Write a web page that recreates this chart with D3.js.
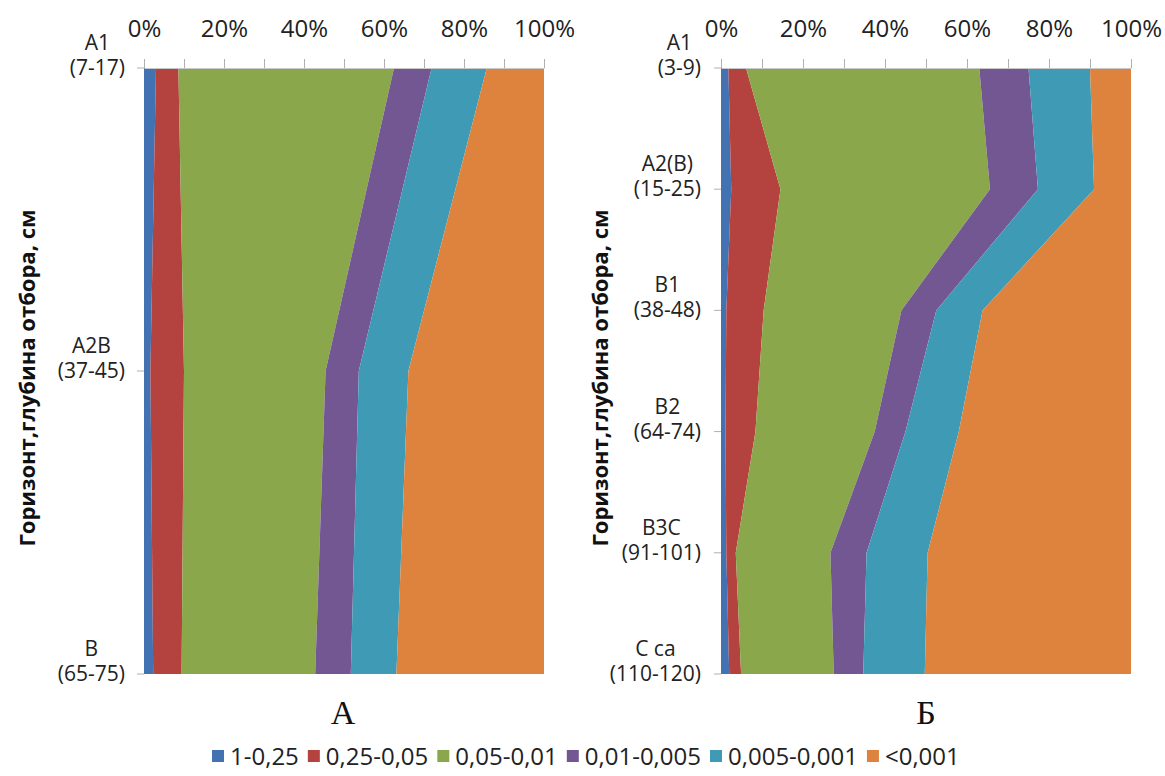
<!DOCTYPE html>
<html>
<head>
<meta charset="utf-8">
<script src="https://cdn.jsdelivr.net/npm/d3@7"></script>
<style>
  body { margin: 0; background: #fff; }
  svg { font-family: "Open Sans", sans-serif; }
</style>
</head>
<body>
<svg id="chart" width="1165" height="776"></svg>
<script>
"use strict";

// particle-size fractions, mm (legend order, stacked left to right)
const fractions = ["1-0,25", "0,25-0,05", "0,05-0,01", "0,01-0,005", "0,005-0,001", "<0,001"];
const fractionColors = ["#4372b3", "#b4423f", "#8ba74c", "#735793", "#3f9bb5", "#de833d"];

// top axis
const percentTicks = [0, 10, 20, 30, 40, 50, 60, 70, 80, 90, 100];

// panel А
const horizonsA = ["А1", "А2В", "В"];
const depthsA = ["(7-17)", "(37-45)", "(65-75)"];
const valuesA = [
    [3.0, 5.6, 53.9, 9.4, 13.8, 14.3],
    [1.6, 8.4, 35.4, 8.3, 12.4, 33.9],
    [2.3, 7.1, 33.4, 8.9, 11.4, 36.9]
];

// panel Б
const horizonsB = ["А1", "А2(В)", "В1", "В2", "В3С", "С ca"];
const depthsB = ["(3-9)", "(15-25)", "(38-48)", "(64-74)", "(91-101)", "(110-120)"];
const valuesB = [
    [1.8, 4.3, 56.9, 12.0, 15.0, 10.0],
    [2.5, 12.0, 51.1, 11.7, 13.7, 9.0],
    [1.3, 9.1, 33.6, 8.5, 11.3, 36.2],
    [1.1, 7.3, 29.1, 7.5, 13.0, 42.0],
    [1.3, 2.3, 23.1, 8.8, 14.9, 49.6],
    [2.0, 2.9, 22.6, 7.2, 15.0, 50.3]
];

const svg = d3.select("#chart");
const plotTop = 68, plotBottom = 674;

function drawPanel(cfg) {

    const g = svg.append("g");

    const x = d3.scaleLinear().domain([0, 100]).range([cfg.left, cfg.right]);
    const y = d3.scalePoint().domain(cfg.horizons).range([plotTop, plotBottom]);

    // rows for the stack
    const rows = cfg.horizons.map(function(h, i) {
        const r = { horizon: h, depth: cfg.depths[i] };
        fractions.forEach(function(f, j) { r[f] = cfg.values[i][j]; });
        return r;
    });
    const series = d3.stack().keys(fractions).offset(d3.stackOffsetExpand)(rows);

    const area = d3.area()
        .y(function(d) { return y(d.data.horizon); })
        .x0(function(d) { return x(d[0] * 100); })
        .x1(function(d) { return x(d[1] * 100); });

    g.selectAll("path.layer")
        .data(series)
        .join("path")
        .attr("class", "layer")
        .attr("fill", function(d, i) { return fractionColors[i]; })
        .attr("d", area);

    // percent axis on top
    const axis = d3.axisTop(x)
        .tickValues(percentTicks)
        .tickSize(9)
        .tickSizeOuter(0)
        .tickPadding(22)
        .tickFormat(function(d) { return d % 20 === 0 ? d + "%" : ""; });

    const ax = g.append("g")
        .attr("transform", "translate(0," + plotTop + ")")
        .call(axis);
    ax.select(".domain").attr("stroke", "#c8c8c8");
    ax.selectAll(".tick line").attr("stroke", "#b0b0b0");
    ax.selectAll(".tick text")
        .attr("font-family", "Open Sans")
        .attr("font-size", 24)
        .attr("fill", "#222");

    // category ticks on the left
    g.selectAll("line.ytick")
        .data(cfg.horizons)
        .join("line")
        .attr("class", "ytick")
        .attr("x1", cfg.left - 7).attr("x2", cfg.left)
        .attr("y1", function(d) { return y(d); })
        .attr("y2", function(d) { return y(d); })
        .attr("stroke", "#b0b0b0");

    // two-line category labels, block right aligned, lines centred
    rows.forEach(function(r) {
        const lab = g.append("g").attr("font-size", 21).attr("fill", "#222");
        const t1 = lab.append("text").attr("y", y(r.horizon) - 18).text(r.horizon);
        const t2 = lab.append("text").attr("y", y(r.horizon) + 7).text(r.depth);
        const w = Math.max(t1.node().getComputedTextLength(), t2.node().getComputedTextLength());
        const cx = cfg.left - cfg.labelGap - w / 2;
        t1.attr("x", cx).attr("text-anchor", "middle");
        t2.attr("x", cx).attr("text-anchor", "middle");
    });

    // axis title
    g.append("text")
        .attr("transform", "translate(" + cfg.titleX + ",378) rotate(-90)")
        .attr("text-anchor", "middle")
        .attr("font-weight", "bold")
        .attr("font-size", 22)
        .attr("fill", "#111")
        .text("Горизонт,глубина отбора, см");

    // panel letter
    g.append("text")
        .attr("x", cfg.letterX)
        .attr("y", 724)
        .attr("text-anchor", "middle")
        .attr("font-family", "Liberation Serif, serif")
        .attr("font-size", 34)
        .attr("fill", "#111")
        .text(cfg.letter);
}

drawPanel({ horizons: horizonsA, depths: depthsA, values: valuesA,
    left: 144, right: 544, labelGap: 19, titleX: 35, letterX: 343, letter: "А" });
drawPanel({ horizons: horizonsB, depths: depthsB, values: valuesB,
    left: 721, right: 1131, labelGap: 20, titleX: 608, letterX: 926, letter: "Б" });

// legend, flowing left to right
const legend = svg.append("g").attr("font-size", 24).attr("fill", "#222");
let lx = 212;
fractions.forEach(function(f, i) {
    legend.append("rect")
        .attr("x", lx).attr("y", 750)
        .attr("width", 12).attr("height", 12)
        .attr("fill", fractionColors[i]);
    const t = legend.append("text").attr("x", lx + 18).attr("y", 765).text(f);
    lx += 18 + t.node().getComputedTextLength() + 9;
});
</script>
</body>
</html>
